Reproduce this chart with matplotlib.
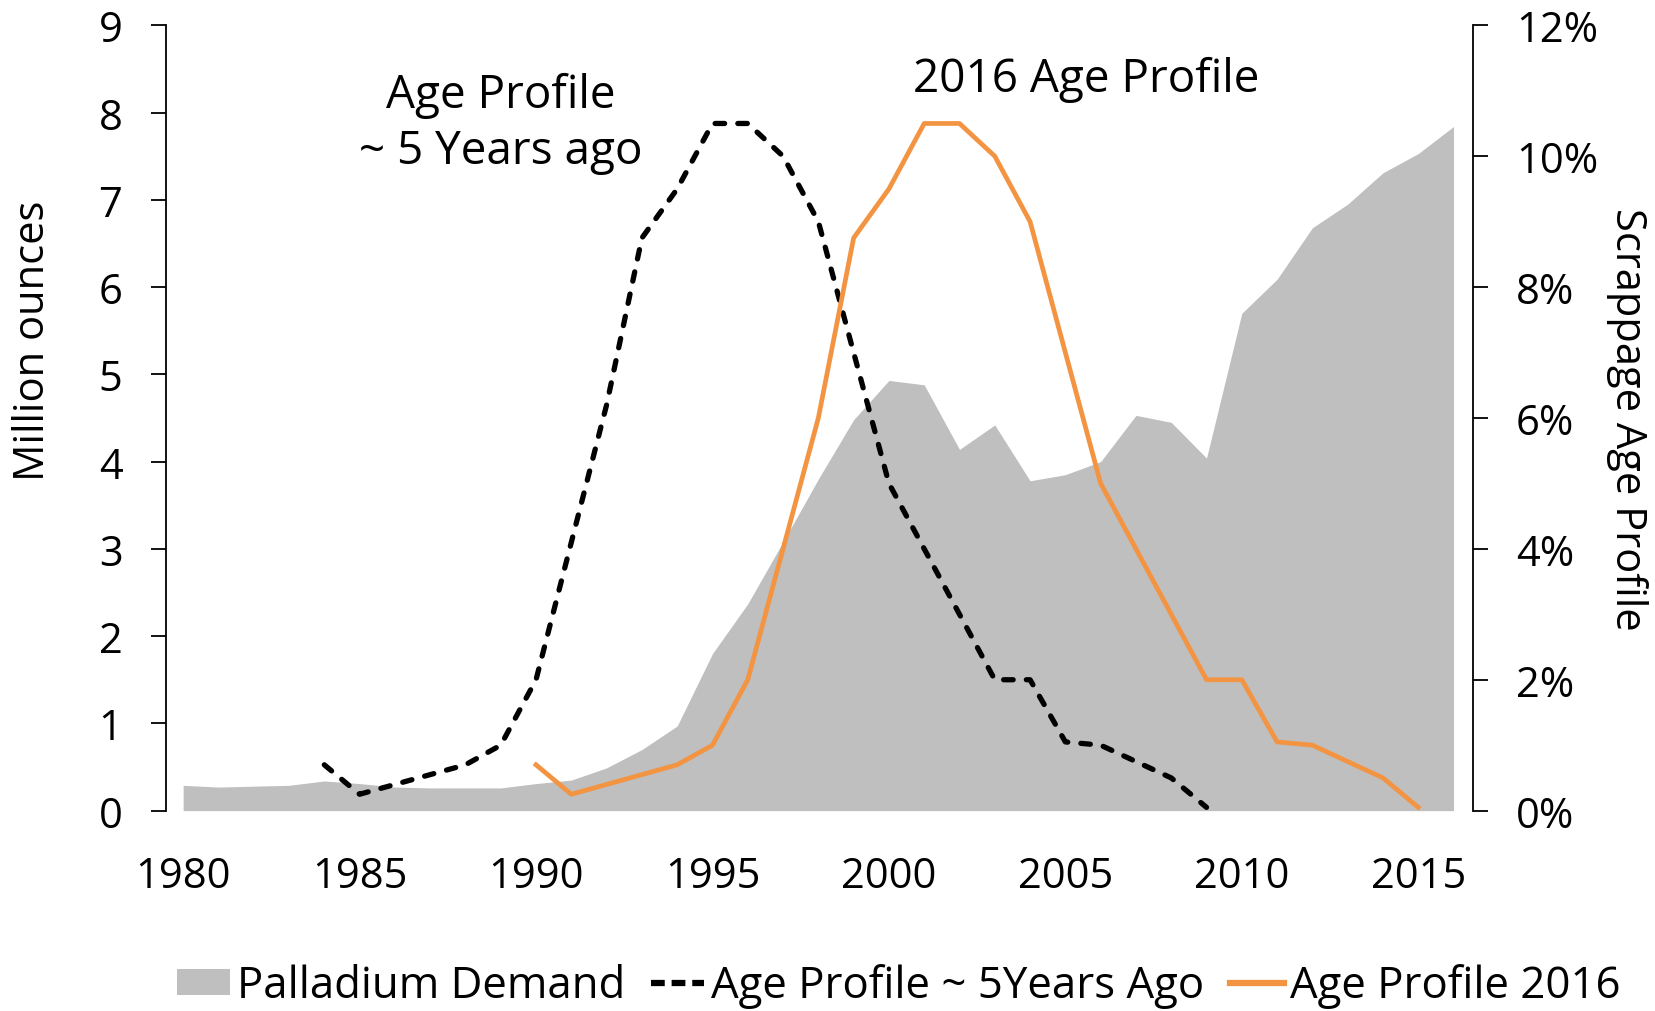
#!/usr/bin/env python
# Palladium demand vs scrappage age profiles
import numpy as np
import matplotlib
matplotlib.use('Agg')
import matplotlib.pyplot as plt
from matplotlib.patches import Patch
from matplotlib.lines import Line2D

plt.rcParams['font.family'] = ['Open Sans', 'DejaVu Sans']

# data
years = list(range(1980, 2017))
demand = [0.29, 0.27, 0.28, 0.29, 0.34, 0.31, 0.27, 0.26, 0.26, 0.26,
          0.31, 0.35, 0.49, 0.70, 0.97, 1.80, 2.37, 3.08, 3.80, 4.48,
          4.93, 4.88, 4.14, 4.42, 3.78, 3.85, 4.00, 4.53, 4.45, 4.04,
          5.70, 6.09, 6.68, 6.95, 7.31, 7.53, 7.84]

old_years = list(range(1984, 2010))
old_profile = [0.7, 0.25, 0.4, 0.55, 0.7, 1.0, 2.0, 4.1, 6.2, 8.75,
               9.5, 10.5, 10.5, 10.0, 9.0, 7.0, 5.0, 4.0, 3.0, 2.0,
               2.0, 1.05, 1.0, 0.75, 0.5, 0.05]

new_years = list(range(1990, 2016))
new_profile = [0.7, 0.25, 0.4, 0.55, 0.7, 1.0, 2.0, 4.0, 6.0, 8.75,
               9.5, 10.5, 10.5, 10.0, 9.0, 7.0, 5.0, 4.0, 3.0, 2.0,
               2.0, 1.05, 1.0, 0.75, 0.5, 0.05]

grey = '#BFBFBF'
orange = '#F39442'
fs = 30

fig = plt.figure(figsize=(16.55, 10.12), dpi=100)
ax = fig.add_axes([0.100, 0.198, 0.790, 0.776])
ax2 = ax.twinx()

ax.fill_between(years, 0, demand, color=grey, linewidth=0)
ax2.plot(old_years, old_profile, color='black', linewidth=3.8,
         dashes=(1.8, 2.5), dash_capstyle='round', solid_joinstyle='round')
ax2.plot(new_years, new_profile, color=orange, linewidth=3.4)

ax.set_xlim(1979.5, 2016.55)
ax.set_ylim(0, 9)
ax2.set_ylim(0, 12)
ax.set_yticks(range(0, 10))
ax2.set_yticks(range(0, 13, 2))
ax2.set_yticklabels(['%d%%' % v for v in range(0, 13, 2)])
ax.set_xticks(range(1980, 2016, 5))

for a in (ax, ax2):
    a.spines['top'].set_visible(False)
    a.spines['bottom'].set_visible(False)
    a.tick_params(axis='y', labelsize=fs, length=11, width=1.3, pad=20)
ax2.spines['left'].set_visible(False)
ax.spines['right'].set_visible(False)
ax.spines['left'].set_linewidth(1.3)
ax2.spines['right'].set_linewidth(1.3)
ax.tick_params(axis='x', labelsize=fs, length=0, pad=32)

ax.set_ylabel('Million ounces', fontsize=fs)
ax.yaxis.set_label_coords(-0.085, 0.60)
ax2.set_ylabel('Scrappage Age Profile', fontsize=fs, rotation=270, va='center')
ax2.yaxis.set_label_coords(1.118, 0.5)

ax.text(1989.0, 7.88, 'Age Profile\n~ 5 Years ago', fontsize=33, ha='center',
        va='center', multialignment='center', linespacing=1.27)
ax.text(2005.6, 8.39, '2016 Age Profile', fontsize=33, ha='center', va='center')

handles = [Patch(facecolor=grey, edgecolor='none'),
           Line2D([], [], color='black', linewidth=4.5, dashes=(2.2, 1.1)),
           Line2D([], [], color=orange, linewidth=4.5)]
labels = ['Palladium Demand', 'Age Profile ~ 5Years Ago', 'Age Profile 2016']
fig.legend(handles, labels, loc='center', bbox_to_anchor=(0.543, 0.025), ncol=3,
           frameon=False, fontsize=31.5, handlelength=1.22, handletextpad=0.15,
           columnspacing=0.6, handleheight=0.55)

fig.savefig('out.png', dpi=100)
